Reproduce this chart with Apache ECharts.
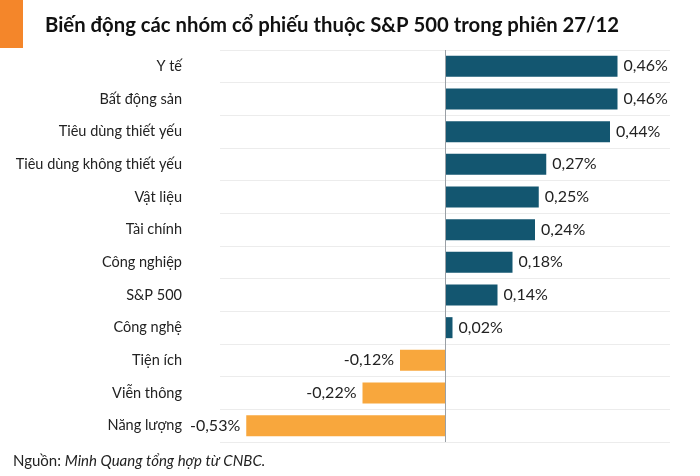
<!DOCTYPE html>
<html>
<head>
    <meta charset="utf-8">
    <script src="https://cdn.jsdelivr.net/npm/echarts@6/dist/echarts.min.js"></script>
</head>
<body style="margin:0">
<div id="chart" style="width:700px;height:476px"></div>
<script>
    // nhóm cổ phiếu, từ trên xuống
    var categories = ['Y tế', 'Bất động sản', 'Tiêu dùng thiết yếu', 'Tiêu dùng không thiết yếu',
        'Vật liệu', 'Tài chính', 'Công nghiệp', 'S&P 500', 'Công nghệ', 'Tiện ích', 'Viễn thông', 'Năng lượng'];
    // % thay đổi
    var values = [0.46, 0.46, 0.44, 0.27, 0.25, 0.24, 0.18, 0.14, 0.02, -0.12, -0.22, -0.53];

    var font = 'Lato, "Noto Sans", sans-serif';
    var chart = echarts.init(document.getElementById('chart'));

    var barData = values.map(function (v) {
        return {
            value: v,
            itemStyle: {color: v >= 0 ? '#135670' : '#f8a73d'},
            label: {position: v >= 0 ? 'right' : 'left'}
        };
    });

    var option = {
        animation: false,
        textStyle: {fontFamily: font},
        graphic: [{
            type: 'rect', left: 0, top: 0,
            shape: {width: 23, height: 48},
            style: {fill: '#f4862a'}
        }, {
            type: 'text', x: 45, y: 25,
            style: {
                text: 'Biến động các nhóm cổ phiếu thuộc S&P 500 trong phiên 27/12',
                fontFamily: font, fontSize: 20.3, fontWeight: 'bold', fill: '#111',
                verticalAlign: 'middle'
            }
        }, {
            type: 'text', x: 13, y: 461,
            style: {
                text: '{n|Nguồn: }{i|Minh Quang tổng hợp từ CNBC.}',
                verticalAlign: 'middle',
                rich: {
                    n: {fontFamily: font, fontSize: 15, fill: '#222'},
                    i: {fontFamily: font, fontSize: 15, fontStyle: 'italic', fill: '#222'}
                }
            }
        }],
        grid: {left: 220, right: 30, top: 50, bottom: 34},
        xAxis: {
            type: 'value', min: -0.6, max: 0.6,
            show: false
        },
        yAxis: {
            type: 'category',
            data: categories,
            inverse: true,
            axisLine: {show: false},
            axisTick: {show: false},
            axisLabel: {fontFamily: font, fontSize: 14.5, color: '#222', margin: 38},
            splitLine: {show: true, lineStyle: {color: '#ececec'}}
        },
        series: [{
            type: 'bar',
            data: barData,
            barWidth: 21,
            label: {
                show: true,
                distance: 6,
                fontFamily: font, fontSize: 16, color: '#222',
                formatter: function (p) {
                    return p.value.toFixed(2).replace('.', ',') + '%';
                }
            },
            markLine: {
                silent: true,
                symbol: 'none',
                label: {show: false},
                lineStyle: {color: '#9aa0a6', width: 1, type: 'solid'},
                data: [{xAxis: 0}]
            }
        }]
    };
    chart.setOption(option);
</script>
</body>
</html>
